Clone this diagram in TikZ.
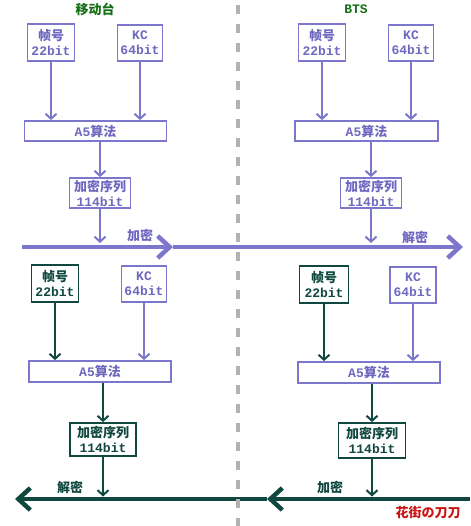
\documentclass[tikz,border=0pt]{standalone}
\usepackage{fontspec}
\setmainfont{Liberation Mono}
\newfontfamily\cjk{Noto Sans CJK SC}
\usetikzlibrary{arrows.meta}
\definecolor{pur}{RGB}{125,118,205}
\definecolor{purtxt}{RGB}{112,104,192}
\definecolor{dgr}{RGB}{16,72,64}
\definecolor{ttl}{RGB}{20,110,20}
\definecolor{sepc}{RGB}{178,178,178}
\definecolor{wm}{RGB}{200,20,20}
\begin{document}
\begin{tikzpicture}[x=1pt,y=-1pt,
  font=\fontsize{13}{15}\selectfont\bfseries,
  pbox/.style={draw=pur, line width=1.8pt, text=purtxt, inner sep=0pt, align=center, fill=white},
  gbox/.style={draw=dgr, line width=1.8pt, text=dgr, inner sep=0pt, align=center, fill=white},
  parr/.style={draw=pur, line width=2pt, -{Straight Barb[length=5pt,width=11pt]}},
  garr/.style={draw=dgr, line width=2pt, -{Straight Barb[length=5pt,width=11pt]}},
  pline/.style={draw=pur, line width=4.5pt, -{Straight Barb[length=12pt,width=22pt]}},
  gline/.style={draw=dgr, line width=4.5pt, -{Straight Barb[length=12pt,width=22pt]}},
  lbl/.style={inner sep=0pt}
]
\useasboundingbox[fill=white] (0,0) rectangle (470,526);

% titles
\node[lbl, text=ttl] (t1) at (95,9) {\cjk 移动台};
\node[lbl, text=ttl] (t2) at (356,9) {BTS};

% ---------- top left ----------
\node[pbox, minimum width=47pt, minimum height=37pt] (fh1) at (51,42.5) {{\cjk 帧号}\\22bit};
\node[pbox, minimum width=45pt, minimum height=36pt] (kc1) at (140,43) {KC\\64bit};
\node[pbox, minimum width=142pt, minimum height=20pt] (a51) at (95.5,131) {A5{\cjk 算法}};
\node[pbox, minimum width=61pt, minimum height=30pt] (seq1) at (100,193) {{\cjk 加密序列}\\114bit};
\draw[parr] (fh1.south) -- (fh1.south |- a51.north);
\draw[parr] (kc1.south) -- (kc1.south |- a51.north);
\draw[parr] (seq1.north |- a51.south) -- (seq1.north);
\coordinate (ta) at (22,247);
\coordinate (tb) at (173,247);
\coordinate (tc) at (463,247);
\draw[parr] (seq1.south) -- ([yshift=4pt]seq1.south |- ta);
\node[lbl, text=purtxt] (lb1) at (140,235) {\cjk 加密};

% ---------- top right ----------
\node[pbox, minimum width=47pt, minimum height=37pt] (fh2) at (322,42.5) {{\cjk 帧号}\\22bit};
\node[pbox, minimum width=45pt, minimum height=36pt] (kc2) at (411,43) {KC\\64bit};
\node[pbox, minimum width=143pt, minimum height=20pt] (a52) at (366.5,131) {A5{\cjk 算法}};
\node[pbox, minimum width=61pt, minimum height=30pt] (seq2) at (371,193) {{\cjk 加密序列}\\114bit};
\draw[parr] (fh2.south) -- (fh2.south |- a52.north);
\draw[parr] (kc2.south) -- (kc2.south |- a52.north);
\draw[parr] (seq2.north |- a52.south) -- (seq2.north);
\draw[parr] (seq2.south) -- ([yshift=4pt]seq2.south |- ta);
\node[lbl, text=purtxt] (lb2) at (415,237) {\cjk 解密};

\draw[pline] (ta) -- (tb);
\draw[pline] (tb) -- (tc);

% ---------- bottom left ----------
\node[gbox, minimum width=47pt, minimum height=37pt] (fh3) at (55,283.5) {{\cjk 帧号}\\22bit};
\node[pbox, minimum width=45pt, minimum height=36pt] (kc3) at (144,284) {KC\\64bit};
\node[pbox, minimum width=142pt, minimum height=21pt] (a53) at (100,371.5) {A5{\cjk 算法}};
\node[gbox, minimum width=66pt, minimum height=33pt] (seq3) at (103,439.5) {{\cjk 加密序列}\\114bit};
\draw[garr] (fh3.south) -- (fh3.south |- a53.north);
\draw[parr] (kc3.south) -- (kc3.south |- a53.north);
\draw[garr] (seq3.north |- a53.south) -- (seq3.north);
\coordinate (ba) at (470,499);
\coordinate (bb) at (267,499);
\coordinate (bc) at (15,499);
\draw[garr] (seq3.south) -- ([yshift=2.5pt]seq3.south |- ba);
\node[lbl, text=dgr] (lb3) at (70,487) {\cjk 解密};

% ---------- bottom right ----------
\node[gbox, minimum width=49pt, minimum height=37pt] (fh4) at (324,284.5) {{\cjk 帧号}\\22bit};
\node[pbox, minimum width=46pt, minimum height=36pt] (kc4) at (413,285) {KC\\64bit};
\node[pbox, minimum width=142pt, minimum height=21pt] (a54) at (369,372.5) {A5{\cjk 算法}};
\node[gbox, minimum width=67pt, minimum height=35pt] (seq4) at (372,440.5) {{\cjk 加密序列}\\114bit};
\draw[garr] (fh4.south) -- (fh4.south |- a54.north);
\draw[parr] (kc4.south) -- (kc4.south |- a54.north);
\draw[garr] (seq4.north |- a54.south) -- (seq4.north);
\draw[garr] (seq4.south) -- ([yshift=2.5pt]seq4.south |- ba);
\node[lbl, text=dgr] (lb4) at (330,487) {\cjk 加密};

\draw[gline] (ba) -- (bb);
\draw[gline] (bb) -- (bc);

\node[lbl, text=wm] (wm) at (428,513) {\cjk 花街の刀刀};

% separator
\draw[sepc, line width=4pt, dash pattern=on 9pt off 10pt] (238,5) -- (238,526);
\end{tikzpicture}
\end{document}
